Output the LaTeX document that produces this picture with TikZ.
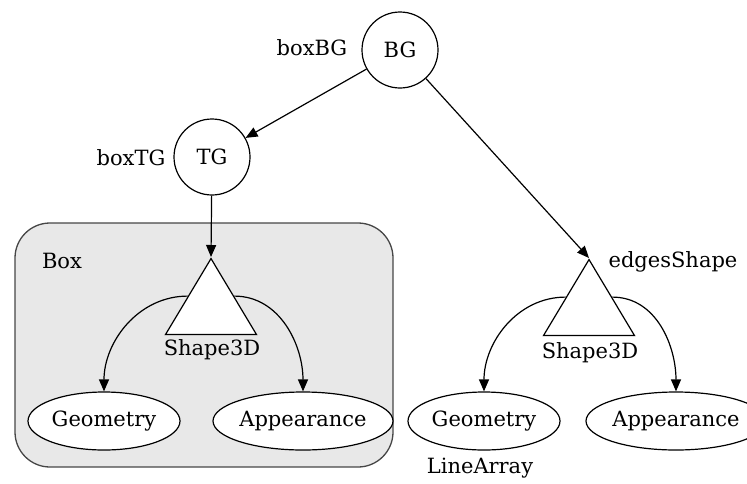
\documentclass[tikz,border=0pt]{standalone}
\usepackage{fontspec}
\setmainfont{DejaVu Serif}
\usetikzlibrary{shapes.geometric,arrows.meta}
\begin{document}
\begin{tikzpicture}[x=1pt,y=-1pt,
    font=\fontsize{21}{25}\selectfont,
    every node/.style={inner sep=0pt},
    grpnode/.style={circle, draw, fill=white, line width=1.2pt, minimum size=76pt},
    shpnode/.style={isosceles triangle, shape border rotate=90, isosceles triangle stretches,
        draw, fill=white, line width=1.2pt, minimum width=91pt, minimum height=76pt},
    leafnode/.style={ellipse, draw, fill=white, line width=1.2pt, minimum width=152pt, minimum height=58pt},
    edge/.style={-{Triangle[length=12pt,width=10pt]}, line width=1.2pt}]
    \definecolor{myclus}{RGB}{232,232,232}
    \definecolor{myclusline}{RGB}{70,70,70}
    \useasboundingbox (0,0) rectangle (747,483);

    % the Box cluster
    \draw[fill=myclus, draw=myclusline, rounded corners=35pt, line width=1.3pt] (15,223) rectangle (393,467);
    \node (boxlbl) at (62,261) {Box};

    % group nodes
    \node[grpnode] (bg) at (400,50) {BG};
    \node (bglbl) at (312,48) {boxBG};
    \node[grpnode] (tg) at (212,157) {TG};
    \node (tglbl) at (131,158) {boxTG};

    % shapes
    \node[shpnode, anchor=apex] (shpa) at (211,257) {};
    \node (shpalbl) at (212,350) {Shape3D};
    \node[shpnode, anchor=apex] (shpb) at (589,258) {};
    \node (shpblbl) at (590,353) {Shape3D};
    \node (shpbname) at (673,262) {edgesShape};

    % leaves
    \node[leafnode] (geoa) at (104,421) {Geometry};
    \node[leafnode] (appa) at (303,421) {Appearance};
    \node[leafnode] (geob) at (484,421) {Geometry};
    \node[leafnode] (appb) at (676,421) {Appearance};
    \node (geoblbl) at (480,468) {LineArray};

    % edges
    \draw[edge] (bg) -- (tg);
    \draw[edge] (bg) -- (shpb.apex);
    \draw[edge] (tg) -- (shpa.apex);
    \draw[edge] (shpa.left side) to[out=180, in=90] (geoa.north);
    \draw[edge] (shpa.right side) to[out=0, in=90] (appa.north);
    \draw[edge] (shpb.left side) to[out=180, in=90] (geob.north);
    \draw[edge] (shpb.right side) to[out=0, in=90] (appb.north);
\end{tikzpicture}
\end{document}
